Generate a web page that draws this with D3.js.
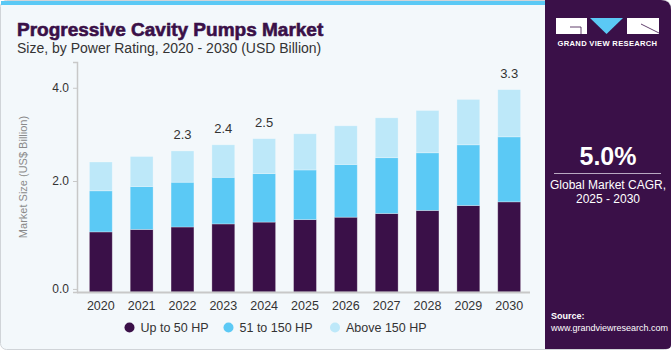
<!DOCTYPE html>
<html><head><meta charset="utf-8">
<script src="https://cdn.jsdelivr.net/npm/d3@7/dist/d3.min.js"></script>
<style>
html,body{margin:0;padding:0;background:#fff;}
svg{display:block;font-family:"Liberation Sans",Arial,sans-serif;}
</style></head>
<body>
<svg id="chart" width="671" height="350"></svg>
<script>
const years = ["2020","2021","2022","2023","2024","2025","2026","2027","2028","2029","2030"];
const upTo50 = [0.98,1.02,1.06,1.11,1.14,1.18,1.22,1.28,1.33,1.41,1.47];
const hp51to150 = [0.67,0.70,0.73,0.76,0.79,0.81,0.86,0.91,0.94,0.99,1.06];
const above150 = [0.47,0.49,0.51,0.53,0.57,0.59,0.63,0.65,0.69,0.74,0.77];
const totalLabels = {"2022":"2.3","2023":"2.4","2024":"2.5","2030":"3.3"};
const seriesNames = ["Up to 50 HP","51 to 150 HP","Above 150 HP"];
const seriesColors = ["#3a1048","#5bc9f5","#bde8f9"];
const yTickLabels = ["0.0","2.0","4.0"];
const yTickPositions = [0.05,1.81,3.33];

const svg = d3.select("#chart");
const W = 671, H = 350;

// background
svg.append("rect").attr("x",0.5).attr("y",0.5).attr("width",W-1).attr("height",H-1)
  .attr("rx",6).attr("fill","#f3f8fb").attr("stroke","#d0d4d8");
// top accent bar
svg.append("rect").attr("x",1).attr("y",1).attr("width",545).attr("height",4).attr("fill","#5bc9f5");
// right panel
const panel = svg.append("g");
panel.append("path").attr("d","M545,0 H661 Q671,0 671,10 V345 Q671,349 666,349 H545 Z").attr("fill","#3a1048");

// title
svg.append("text").attr("x",17).attr("y",36).attr("font-size",19).attr("font-weight","bold")
  .attr("fill","#3a1048").attr("stroke","#3a1048").attr("stroke-width",0.6)
  .attr("font-family","'Liberation Sans',Arial,sans-serif")
  .text("Progressive Cavity Pumps Market");
svg.append("text").attr("x",17).attr("y",53).attr("font-size",14).attr("fill","#333")
  .text("Size, by Power Rating, 2020 - 2030 (USD Billion)");

// scales
const x = d3.scaleBand().domain(years).range([80.4,529.6]).paddingInner(0.44).paddingOuter(0.22);
const y = d3.scaleLinear().domain([0,3.75]).range([292,62]);

const data = years.map((yr,i)=>({year:yr, s0:upTo50[i], s1:hp51to150[i], s2:above150[i]}));
const stack = d3.stack().keys(["s0","s1","s2"])(data);

const g = svg.append("g");
stack.forEach((layer,li)=>{
  g.selectAll(null).data(layer).enter().append("rect")
    .attr("x",d=>x(d.data.year)).attr("width",x.bandwidth())
    .attr("y",d=>y(d[1])).attr("height",d=>y(d[0])-y(d[1]))
    .attr("fill",seriesColors[li])
    .attr("stroke","rgba(255,255,255,0.35)").attr("stroke-width",0.8);
});

// total labels
g.selectAll(null).data(data.filter(d=>totalLabels[d.year])).enter().append("text")
  .attr("x",d=>x(d.year)+x.bandwidth()/2)
  .attr("y",d=>y(d.s0+d.s1+d.s2)-12)
  .attr("text-anchor","middle").attr("font-size",13).attr("fill","#333")
  .text(d=>totalLabels[d.year]);

// y axis
const yAxis = d3.axisLeft(y).tickValues(yTickPositions).tickFormat((d,i)=>yTickLabels[i])
  .tickSize(4).tickPadding(4);
const ya = svg.append("g").attr("transform","translate(77,0)").call(yAxis);
ya.select(".domain").attr("stroke","#c8c8c8").attr("stroke-width",1.5);
ya.selectAll(".tick line").attr("stroke","#c8c8c8");
ya.selectAll(".tick text").attr("font-size",12).attr("fill","#333")
  .attr("font-family","'Liberation Sans',Arial,sans-serif");

// x axis
const xAxis = d3.axisBottom(x).tickSize(0).tickPadding(9);
const xa = svg.append("g").attr("transform","translate(0,292)").call(xAxis);
xa.select(".domain").remove();
svg.append("line").attr("x1",77).attr("x2",530).attr("y1",292.5).attr("y2",292.5)
  .attr("stroke","#c8c8c8").attr("stroke-width",2);
xa.selectAll(".tick text").attr("font-size",12.5).attr("fill","#333")
  .attr("font-family","'Liberation Sans',Arial,sans-serif");

// y title
svg.append("text").attr("transform","translate(27,177) rotate(-90)")
  .attr("text-anchor","middle").attr("font-size",11).attr("fill","#8a8a8a")
  .text("Market Size (US$ Billion)");

// legend
const legX = [129.5,228.5,335];
seriesNames.forEach((n,i)=>{
  svg.append("circle").attr("cx",legX[i]).attr("cy",327.5).attr("r",5).attr("fill",seriesColors[i]);
  svg.append("text").attr("x",legX[i]+11).attr("y",332).attr("font-size",12.5).attr("fill","#333").text(n);
});

// logo
panel.append("rect").attr("x",556).attr("y",18).attr("width",31).attr("height",16).attr("fill","#fff");
panel.append("path").attr("d","M570,27 H581 V34").attr("fill","none").attr("stroke","#3a1048").attr("stroke-width",0.8);
panel.append("path").attr("d","M590,18 H623 L606.5,34 Z").attr("fill","#5bc9f5");
panel.append("rect").attr("x",627).attr("y",18).attr("width",32).attr("height",16).attr("fill","#fff");
panel.append("path").attr("d","M641,24 L659,33").attr("fill","none").attr("stroke","#3a1048").attr("stroke-width",0.8);
panel.append("text").attr("x",607.5).attr("y",46).attr("text-anchor","middle").attr("font-size",7.6)
  .attr("font-weight","bold").attr("fill","#fff").attr("letter-spacing",0.3).text("GRAND VIEW RESEARCH");

// CAGR
panel.append("text").attr("x",608).attr("y",165).attr("text-anchor","middle").attr("font-size",25)
  .attr("font-weight","bold").attr("fill","#fff").text("5.0%");
panel.append("line").attr("x1",554).attr("x2",661).attr("y1",173.5).attr("y2",173.5)
  .attr("stroke","#b9a9c2").attr("stroke-width",1);
panel.append("text").attr("x",608).attr("y",189).attr("text-anchor","middle").attr("font-size",12)
  .attr("fill","#fff").text("Global Market CAGR,");
panel.append("text").attr("x",608).attr("y",203).attr("text-anchor","middle").attr("font-size",12)
  .attr("fill","#fff").text("2025 - 2030");

// source
panel.append("text").attr("x",551).attr("y",319).attr("font-size",9).attr("font-weight","bold")
  .attr("fill","#fff").text("Source:");
panel.append("text").attr("x",551).attr("y",331).attr("font-size",9)
  .attr("fill","#fff").text("www.grandviewresearch.com");
</script>
</body></html>
